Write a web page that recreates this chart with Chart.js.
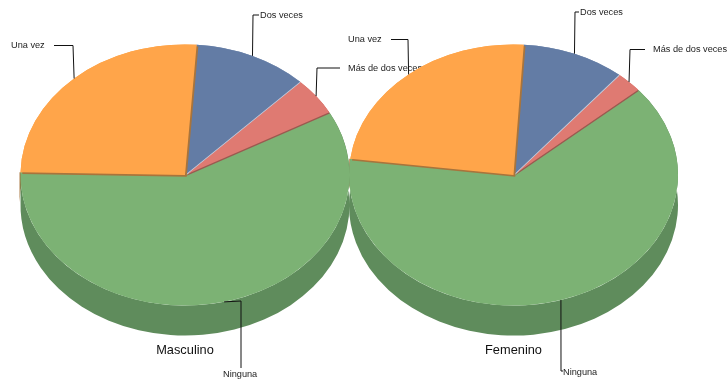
<!DOCTYPE html>
<html>
<head>
<meta charset="utf-8">
<title>Masculino / Femenino</title>
<script src="https://cdn.jsdelivr.net/npm/chart.js@4"></script>
<style>
  body { margin: 0; background: #fff; }
  canvas { position: absolute; left: 0; top: 0; }
</style>
</head>
<body>
<canvas id="pieMasculino" width="728" height="383"></canvas>
<canvas id="pieFemenino" width="728" height="383"></canvas>
<script>
const categories = ['Ninguna', 'Una vez', 'Dos veces', 'Más de dos veces'];
const masculinoValues = [58.3, 25.8, 11.2, 4.7];
const femeninoValues = [63.3, 24.0, 10.1, 2.6];
const masculinoRotation = 61.3;
const femeninoRotation = 49.3;

const topColors = ['#7CB274', '#FFA54A', '#637CA5', '#DF7A72'];
const TILT = 0.794;     // pie is squashed to an ellipse
const DEPTH = 30;       // height of the side wall

// where each label sits: text x, text y, leader path after the slice anchor
const masculinoLabels = [
  { x: 223, y: 374, path: [[241, 301], [241, 368]] },
  { x: 11, y: 45.5, path: [[73, 45.5], [54, 45.5]] },
  { x: 260, y: 15, path: [[253, 15], [259, 15]] },
  { x: 348, y: 68, path: [[317, 68], [340, 68]] }
];
const femeninoLabels = [
  { x: 563, y: 372, path: [[561, 371], [563, 371]] },
  { x: 348, y: 39.5, path: [[408, 39.5], [391, 39.5]] },
  { x: 580, y: 12, path: [[575, 12], [579, 12]] },
  { x: 653, y: 49.5, path: [[630, 49.5], [645, 49.5]] }
];

function paintArc(arc, ctx, color, dx, dy) {
  const saved = arc.options;
  arc.options = {
    backgroundColor: color, borderColor: color, borderWidth: 0, borderRadius: 0,
    borderAlign: 'center', offset: 0, spacing: 0, circular: true
  };
  ctx.save();
  ctx.translate(arc.x + dx, arc.y + dy);
  ctx.scale(1, TILT);
  ctx.translate(-arc.x, -arc.y);
  arc.draw(ctx);
  ctx.restore();
  arc.options = saved;
}

// side wall of one slice, follows the arc's own angles
function paintWall(arc, ctx, color, dx) {
  const ry = arc.outerRadius * TILT;
  ctx.fillStyle = color;
  ctx.beginPath();
  ctx.ellipse(arc.x + dx, arc.y + DEPTH, arc.outerRadius, ry, 0, arc.startAngle, arc.endAngle);
  ctx.ellipse(arc.x + dx, arc.y, arc.outerRadius, ry, 0, arc.endAngle, arc.startAngle, true);
  ctx.closePath();
  ctx.fill();
}

const pie3d = {
  id: 'pie3d',
  beforeDatasetDraw(chart) {
    const ctx = chart.ctx;
    const arcs = chart.getDatasetMeta(0).data;
    // orange sliver first so the green wall sits over it, only below the slice's first corner
    const una = arcs[1];
    const cornerY = una.y + una.outerRadius * TILT * Math.sin(una.startAngle);
    ctx.save();
    ctx.beginPath();
    ctx.rect(0, cornerY, chart.width, chart.height - cornerY);
    ctx.clip();
    paintWall(una, ctx, '#A8743C', -1);
    ctx.restore();
    paintWall(arcs[0], ctx, '#5F8C5C', 0);
    ctx.save();
    ctx.translate(arcs[0].x, arcs[0].y);
    ctx.scale(1, TILT);
    ctx.translate(-arcs[0].x, -arcs[0].y);
  },
  afterDatasetDraw(chart) {
    const ctx = chart.ctx;
    const arcs = chart.getDatasetMeta(0).data;
    ctx.restore();
    // thin cut edges under the slices
    paintArc(arcs[3], ctx, '#9A5A50', 0.5, 1.2);
    paintArc(arcs[3], ctx, topColors[3], 0, 0);
    paintArc(arcs[2], ctx, '#C3CEDF', 0.6, 0.6);
    paintArc(arcs[2], ctx, topColors[2], 0, 0);
    paintArc(arcs[1], ctx, '#A8743C', 1.7, 1.7);
    paintArc(arcs[1], ctx, topColors[1], 0, 0);
  },
  afterDraw(chart, args, opts) {
    const ctx = chart.ctx;
    const arcs = chart.getDatasetMeta(0).data;
    ctx.save();
    ctx.font = '9.2px "Liberation Sans", Arial, sans-serif';
    ctx.textBaseline = 'middle';
    arcs.forEach((arc, i) => {
      const label = opts.labels[i];
      const mid = (arc.startAngle + arc.endAngle) / 2;
      ctx.strokeStyle = '#111';
      ctx.lineWidth = 1;
      ctx.beginPath();
      ctx.moveTo(arc.x + arc.outerRadius * Math.cos(mid), arc.y + arc.outerRadius * Math.sin(mid) * TILT);
      label.path.forEach(p => ctx.lineTo(p[0], p[1]));
      ctx.stroke();
      ctx.fillStyle = '#222';
      ctx.fillText(categories[i], label.x, label.y);
    });
    ctx.font = '12.8px "Liberation Sans", Arial, sans-serif';
    ctx.textAlign = 'center';
    ctx.fillStyle = '#111';
    ctx.fillText(opts.title, arcs[0].x, 350);
    ctx.restore();
  }
};

function makePie(id, values, rotation, left, labels, title) {
  return new Chart(document.getElementById(id), {
    type: 'pie',
    plugins: [pie3d],
    data: {
      labels: categories,
      datasets: [{ data: values, backgroundColor: topColors, borderWidth: 0, clip: false }]
    },
    options: {
      responsive: false,
      animation: false,
      events: [],
      rotation: rotation,
      layout: { padding: { left: left, right: 728 - left - 329, top: 10.5, bottom: 43.5 } },
      plugins: {
        legend: { display: false },
        tooltip: { enabled: false },
        pie3d: { labels: labels, title: title }
      }
    }
  });
}

makePie('pieMasculino', masculinoValues, masculinoRotation, 20.5, masculinoLabels, 'Masculino');
makePie('pieFemenino', femeninoValues, femeninoRotation, 349, femeninoLabels, 'Femenino');
</script>
</body>
</html>
